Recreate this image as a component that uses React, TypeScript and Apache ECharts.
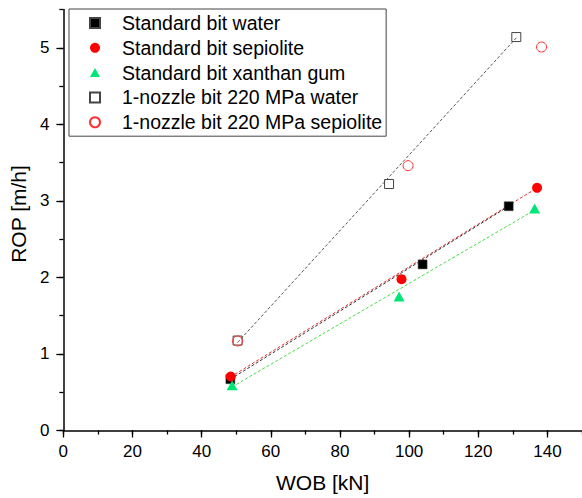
import React, { useEffect, useRef } from "react";
import * as echarts from "echarts";

// Measured points (WOB kN, ROP m/h)
const stdWaterX = [48.3, 103.9, 128.8];
const stdWaterY = [0.67, 2.17, 2.93];
const stdSepX = [48.4, 97.8, 137.0];
const stdSepY = [0.705, 1.977, 3.17];
const stdXanX = [48.8, 97.1, 136.3];
const stdXanY = [0.59, 1.75, 2.9];
const nozWaterX = [50.4, 94.2, 131.0];
const nozWaterY = [1.175, 3.22, 5.14];
const nozSepX = [50.4, 99.7, 138.3];
const nozSepY = [1.17, 3.46, 5.01];

// Trend-line end points
const fitNozWaterX = [50.4, 131.0];
const fitNozWaterY = [1.15, 5.13];
const fitStdWaterX = [48.3, 128.8];
const fitStdWaterY = [0.67, 2.93];
const fitStdSepX = [48.4, 137.0];
const fitStdSepY = [0.7, 3.17];
const fitStdXanX = [48.8, 136.3];
const fitStdXanY = [0.57, 2.88];

// Axis ticks
const xMajor = [0, 20, 40, 60, 80, 100, 120, 140];
const xMinor = [0, 10, 20, 30, 40, 50, 60, 70, 80, 90, 100, 110, 120, 130, 140, 150];
const yMajor = [0, 1, 2, 3, 4, 5];
const yMinor = [0, 0.5, 1, 1.5, 2, 2.5, 3, 3.5, 4, 4.5, 5, 5.5];

const names = [
  "Standard bit water",
  "Standard bit sepiolite",
  "Standard bit xanthan gum",
  "1-nozzle bit 220 MPa water",
  "1-nozzle bit 220 MPa sepiolite",
];

const FONT = "'Liberation Sans', Arial, sans-serif";
const pts = (xs: number[], ys: number[]) => xs.map((x, i) => [x, ys[i]]);

export default function App() {
  const ref = useRef<HTMLDivElement>(null);
  useEffect(() => {
    if (!ref.current) return;
    const chart = echarts.init(ref.current, undefined, { renderer: "svg" });
    const trend = (data: number[][], color: string) => ({
      type: "line",
      data,
      symbol: "none",
      silent: true,
      z: 1,
      lineStyle: { color, width: 1, type: [3, 2] },
    });
    const tri = "path://M5,0L10,9L0,9Z";
    const sq = "path://M0,0L10,0L10,10L0,10Z";
    chart.setOption({
      animation: false,
      backgroundColor: "#fff",
      grid: { left: 58, right: 0, top: 9.5, bottom: 67 },
      legend: {
        data: names,
        orient: "vertical",
        left: 69,
        top: 9,
        padding: [4, 4, 4, 20],
        itemWidth: 10,
        itemHeight: 10,
        itemGap: 4.8,
        symbolKeepAspect: true,
        borderColor: "#444",
        borderWidth: 1,
        textStyle: { fontSize: 19.5, color: "#000", fontFamily: FONT, padding: [0, 0, 0, 17] },
      },
      xAxis: [
        {
          type: "value",
          min: 0,
          max: 150,
          interval: 20,
          name: "WOB [kN]",
          nameLocation: "middle",
          nameGap: 41.5,
          nameTextStyle: { fontSize: 21, color: "#000", fontFamily: FONT },
          axisLine: { show: true, lineStyle: { color: "#000", width: 1.5 } },
          axisTick: { show: true, length: 7, customValues: xMajor, lineStyle: { color: "#000", width: 1.3 } },
          axisLabel: { customValues: xMajor, fontSize: 17, color: "#000", margin: 12, fontFamily: FONT },
          splitLine: { show: false },
        },
        {
          type: "value",
          min: 0,
          max: 150,
          interval: 10,
          position: "bottom",
          axisLine: { show: false },
          axisTick: { show: true, length: 4, customValues: xMinor, lineStyle: { color: "#000", width: 1.3 } },
          axisLabel: { show: false },
          splitLine: { show: false },
        },
      ],
      yAxis: [
        {
          type: "value",
          min: 0,
          max: 5.5,
          interval: 1,
          name: "ROP [m/h]",
          nameLocation: "middle",
          nameGap: 29,
          nameTextStyle: { fontSize: 21, color: "#000", fontFamily: FONT, padding: [0, 0, 0, 12] },
          axisLine: { show: true, lineStyle: { color: "#000", width: 1.5 } },
          axisTick: { show: true, length: 7, customValues: yMajor, lineStyle: { color: "#000", width: 1.3 } },
          axisLabel: { customValues: yMajor, fontSize: 17, color: "#000", margin: 14, fontFamily: FONT },
          splitLine: { show: false },
        },
        {
          type: "value",
          min: 0,
          max: 5.5,
          interval: 0.5,
          position: "left",
          axisLine: { show: false },
          axisTick: { show: true, length: 4, customValues: yMinor, lineStyle: { color: "#000", width: 1.3 } },
          axisLabel: { show: false },
          splitLine: { show: false },
        },
      ],
      series: [
        trend(pts(fitNozWaterX, fitNozWaterY), "#555"),
        trend(pts(fitStdSepX, fitStdSepY), "#e83030"),
        trend(pts(fitStdWaterX, fitStdWaterY), "#333"),
        trend(pts(fitStdXanX, fitStdXanY), "#44e044"),
        {
          type: "scatter",
          name: names[0],
          data: pts(stdWaterX, stdWaterY),
          symbol: sq,
          symbolKeepAspect: true,
          symbolSize: 9,
          z: 3,
          itemStyle: { color: "#000", borderColor: "#444", borderWidth: 0.5, opacity: 1 },
        },
        {
          type: "scatter",
          name: names[1],
          data: pts(stdSepX, stdSepY),
          symbol: "circle",
          symbolSize: 10,
          z: 3,
          itemStyle: { color: "#ff0000", opacity: 1 },
        },
        {
          type: "scatter",
          name: names[2],
          data: pts(stdXanX, stdXanY),
          symbol: tri,
          symbolKeepAspect: true,
          symbolSize: 11,
          z: 3,
          itemStyle: { color: "#00e676", opacity: 1 },
        },
        {
          type: "scatter",
          name: names[3],
          data: pts(nozWaterX, nozWaterY),
          symbol: sq,
          symbolKeepAspect: true,
          symbolSize: 9,
          z: 3,
          itemStyle: { color: "rgba(255,255,255,0)", borderColor: "#444", borderWidth: 1, opacity: 1 },
        },
        {
          type: "scatter",
          name: names[4],
          data: pts(nozSepX, nozSepY),
          symbol: "circle",
          symbolSize: 10,
          z: 3,
          itemStyle: { color: "rgba(255,255,255,0)", borderColor: "#ff3030", borderWidth: 1, opacity: 1 },
        },
      ],
    });
    return () => chart.dispose();
  }, []);
  return (
    <div
      ref={ref}
      style={{ position: "absolute", left: 0, top: 0, width: 582, height: 498 }}
    />
  );
}
